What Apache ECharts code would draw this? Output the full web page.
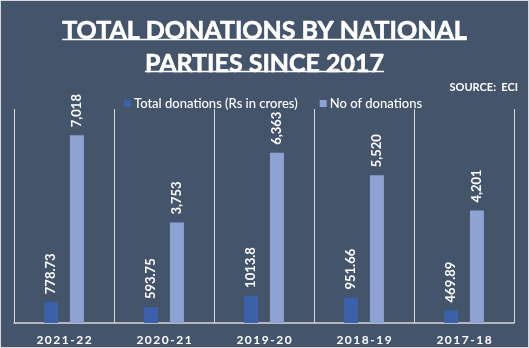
<!DOCTYPE html>
<html>
<head>
<meta charset="utf-8">
<script src="https://cdn.jsdelivr.net/npm/echarts@6/dist/echarts.min.js"></script>
<style>
  html, body { margin: 0; padding: 0; background: #44546A; }
  #chart { width: 529px; height: 348px; box-sizing: border-box; border: 1px solid #d9d9d9; }
</style>
</head>
<body>
<div id="chart"></div>
<script>
// Fiscal years shown on the category axis
const years = ['2021-22', '2020-21', '2019-20', '2018-19', '2017-18'];
// Total donations received (Rs in crores)
const totalDonations = [778.73, 593.75, 1013.8, 951.66, 469.89];
// Number of donations received
const donationCount = [7018, 3753, 6363, 5520, 4201];

const titleLines = ['TOTAL DONATIONS BY NATIONAL', 'PARTIES SINCE 2017'];
const titleFont = 'bold 25px Lato';

// measure a title line so its underline spans the text
function textWidth(str, font) {
  const c = document.createElement('canvas').getContext('2d');
  c.font = font;
  return c.measureText(str).width;
}

const W = 527, cx = W / 2;
const underlines = titleLines.map((t, i) => {
  const w = textWidth(t, titleFont);
  const y = i === 0 ? 38.5 : 70.5;
  return {
    type: 'line',
    shape: { x1: cx - w / 2, y1: y, x2: cx + w / 2, y2: y },
    style: { stroke: '#ffffff', lineWidth: 1.5 },
    z: 10
  };
});

const chart = echarts.init(document.getElementById('chart'));
const labelBase = {
  show: true,
  position: 'top',
  rotate: 90,
  align: 'left',
  verticalAlign: 'middle',
  distance: 8,
  color: '#ffffff',
  fontFamily: 'Lato',
  fontWeight: 'bold',
  fontSize: 13
};

chart.setOption({
  backgroundColor: '#44546A',
  animation: false,
  graphic: [
    {
      type: 'text', left: 'center', top: 13,
      style: {
        text: titleLines.join('\n'), font: titleFont, fill: '#ffffff',
        textAlign: 'center', lineHeight: 33,
        stroke: '#ffffff', lineWidth: 0.6
      }
    },
    ...underlines,
    {
      type: 'text', right: 10, top: 81,
      style: { text: 'SOURCE:  ECI', font: 'bold 11px Lato', fill: '#ffffff' }
    }
  ],
  legend: {
    left: 118, top: 91,
    icon: 'rect', itemWidth: 7, itemHeight: 7, itemGap: 22,
    textStyle: { color: '#ffffff', fontFamily: 'Lato', fontWeight: 500, fontSize: 13, padding: [0, 0, 0, -2] },
    data: ['Total donations (Rs in crores)', 'No of donations']
  },
  grid: { left: 13, right: 14, top: 108, bottom: 24 },
  xAxis: {
    type: 'category',
    data: years,
    axisLine: { lineStyle: { color: '#d9d9d9', width: 1.5 } },
    axisTick: { show: false },
    splitLine: { show: true, lineStyle: { color: '#d9d9d9', width: 1 } },
    axisLabel: {
      color: '#ffffff', fontFamily: 'Lato', fontWeight: 'bold', fontSize: 12, margin: 11,
      formatter: v => v.split('').join('\u2009')
    }
  },
  yAxis: {
    type: 'value', min: 0, max: 8000, show: false,
    splitLine: { show: false }
  },
  series: [
    {
      name: 'Total donations (Rs in crores)',
      type: 'bar',
      data: totalDonations,
      barWidth: 14,
      barGap: '85%',
      itemStyle: { color: '#3D60AB' },
      label: Object.assign({}, labelBase, { formatter: p => String(p.value) })
    },
    {
      name: 'No of donations',
      type: 'bar',
      data: donationCount,
      barWidth: 14,
      itemStyle: { color: '#8EA2D3' },
      label: Object.assign({}, labelBase, { formatter: p => p.value.toLocaleString('en-US') })
    }
  ]
});
</script>
</body>
</html>
